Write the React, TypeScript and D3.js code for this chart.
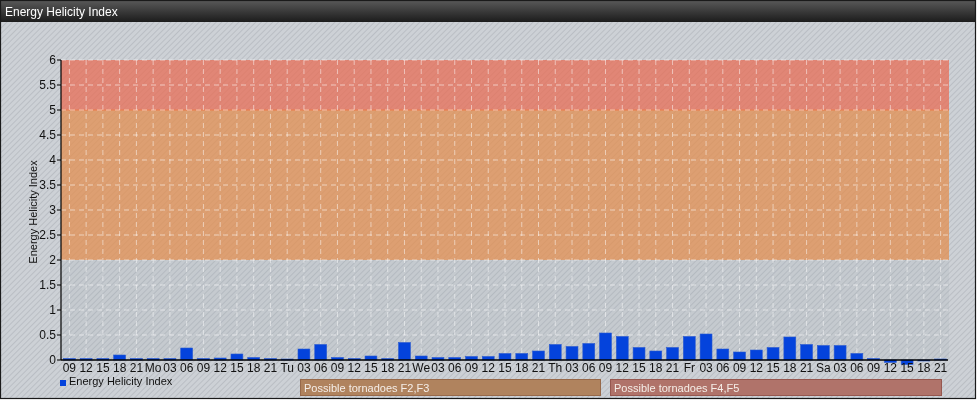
import React from "react";
import * as d3 from "d3";

const hourLabels: string[] = [
  "09","12","15","18","21","Mo","03","06","09","12","15","18","21","Tu","03","06","09","12","15","18","21",
  "We","03","06","09","12","15","18","21","Th","03","06","09","12","15","18","21","Fr","03","06","09","12",
  "15","18","21","Sa","03","06","09","12","15","18","21",
];
const ehiValues: number[] = [
  0.03,0.03,0.03,0.1,0.03,0.03,0.03,0.24,0.03,0.04,0.12,0.05,0.03,0.02,0.22,0.31,0.05,0.03,0.08,0.03,0.35,
  0.08,0.05,0.05,0.07,0.07,0.13,0.13,0.18,0.31,0.27,0.33,0.54,0.47,0.25,0.18,0.25,0.47,0.52,0.22,0.16,0.2,
  0.25,0.46,0.31,0.29,0.29,0.13,0.03,-0.05,-0.09,-0.02,0.02,
];
const yTicks: number[] = [0,0.5,1,1.5,2,2.5,3,3.5,4,4.5,5,5.5,6];
const bands = [
  { from: 0, to: 2, color: "rgba(150,160,172,0.14)" },
  { from: 2, to: 5, color: "rgba(226,142,78,0.74)" },
  { from: 5, to: 6, color: "rgba(232,108,84,0.74)" },
];
const title = "Energy Helicity Index";
const seriesName = "Energy Helicity Index";
const warnings = [
  { text: "Possible tornadoes F2,F3", x0: 300, x1: 600, fill: "#b0835e", stroke: "#97694a" },
  { text: "Possible tornadoes F4,F5", x0: 610, x1: 941, fill: "#b0736a", stroke: "#96574f" },
];

const W = 978, H = 400;
const PL = 61, PR = 949, PT = 60, PB = 360;
const FONT = "'Liberation Sans', Arial, sans-serif";

export default function App() {
  const x = d3.scaleBand<number>().domain(d3.range(hourLabels.length)).range([PL, PR]).paddingInner(0.29).paddingOuter(0.145);
  const y = d3.scaleLinear().domain([0, 6]).range([PB, PT]);
  const center = (i: number) => (x(i) as number) + x.bandwidth() / 2;

  return (
    <svg width={W} height={H} style={{ position: "fixed", left: 0, top: 0 }} fontFamily={FONT}>
      <defs>
        <pattern id="hatch" width="4" height="4" patternUnits="userSpaceOnUse" patternTransform="rotate(45)">
          <rect width="4" height="4" fill="#cdd1d6" />
          <line x1="0" y1="0" x2="0" y2="4" stroke="#b5bac0" strokeWidth="1.6" />
        </pattern>
        <linearGradient id="titleGrad" x1="0" y1="0" x2="0" y2="1">
          <stop offset="0" stopColor="#5a5a5a" />
          <stop offset="1" stopColor="#1c1c1c" />
        </linearGradient>
      </defs>
      <rect x={0} y={0} width={976} height={399} fill="url(#hatch)" />
      <rect x={0} y={0} width={976} height={22} fill="url(#titleGrad)" />
      <text x={5} y={16} fill="#ffffff" fontSize={12}>{title}</text>

      {bands.map((b, i) => (
        <rect key={i} x={PL} y={y(b.to)} width={PR - PL} height={y(b.from) - y(b.to)} fill={b.color} />
      ))}
      <line x1={PL} x2={PR} y1={y(5)} y2={y(5)} stroke="#ee7a4a" strokeWidth={1.2} />

      {yTicks.filter((t) => t > 0).map((t) => (
        <line key={"h" + t} x1={PL} x2={PR} y1={y(t)} y2={y(t)} stroke="rgba(255,255,255,0.55)" strokeDasharray="5,4" />
      ))}
      {hourLabels.map((_, i) => (
        <line key={"v" + i} x1={center(i)} x2={center(i)} y1={PT} y2={PB} stroke="rgba(255,255,255,0.5)" strokeDasharray="5,4" />
      ))}

      {ehiValues.map((v, i) => (
        <rect key={"b" + i} x={x(i)} y={Math.min(y(v), y(0))} width={x.bandwidth()} height={Math.abs(y(v) - y(0))}
          fill="#0443dc" stroke="#2a5ad0" strokeWidth={0.6} />
      ))}

      <line x1={PL} x2={PL} y1={PT} y2={PB} stroke="#000" strokeWidth={1.2} />
      <line x1={PL} x2={PR - 1} y1={PB} y2={PB} stroke="#000" strokeWidth={1.5} />
      {yTicks.map((t) => (
        <g key={"t" + t}>
          <line x1={PL - 4} x2={PL} y1={y(t)} y2={y(t)} stroke="#000" />
          <text x={PL - 5} y={y(t) + 4} textAnchor="end" fontSize={12} fill="#111">{t}</text>
        </g>
      ))}
      <text transform={`translate(37,${(PT + PB) / 2 + 2}) rotate(-90)`} textAnchor="middle" fontSize={11} fill="#111">
        {seriesName}
      </text>
      {hourLabels.map((l, i) => (
        <text key={"x" + i} x={center(i)} y={372} textAnchor="middle" fontSize={12} fill="#111">{l}</text>
      ))}
      <rect x={60} y={380} width={6} height={6} fill="#0443dc" />
      <text x={69} y={385} fontSize={11} fill="#111">{seriesName}</text>

      {warnings.map((w, i) => (
        <g key={"w" + i}>
          <rect x={w.x0 + 0.5} y={379.5} width={w.x1 - w.x0} height={16} fill={w.fill} stroke={w.stroke} />
          <text x={w.x0 + 4} y={391.5} fontSize={11} fill="#f5eee8">{w.text}</text>
        </g>
      ))}
      <rect x={0.5} y={0.5} width={975} height={398} fill="none" stroke="#1a1a1a" strokeWidth={1.2} />
    </svg>
  );
}
